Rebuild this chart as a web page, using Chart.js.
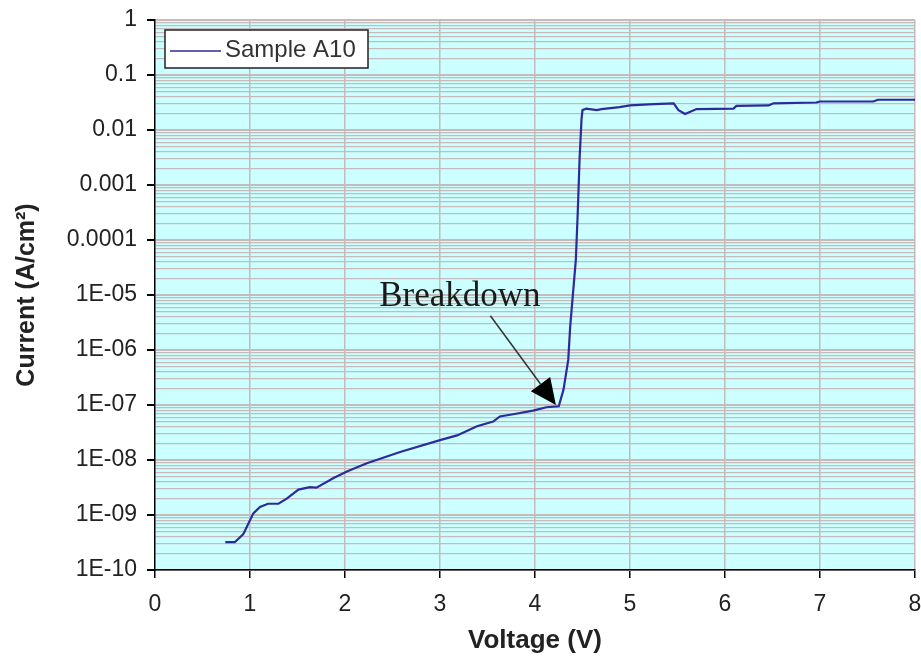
<!DOCTYPE html>
<html>
<head>
<meta charset="utf-8">
<script src="https://cdn.jsdelivr.net/npm/chart.js@4/dist/chart.umd.min.js"></script>
<style>
  html, body { margin: 0; padding: 0; background: #fff; }
  #wrap { width: 921px; height: 662px; }
</style>
</head>
<body>
<div id="wrap"><canvas id="ivChart" width="921" height="662"></canvas></div>
<script>
// ─── I-V curve, sample A10 ───
const voltage = [0.74, 0.84, 0.93, 1.035, 1.105, 1.19, 1.30, 1.39, 1.51, 1.63, 1.70, 1.88, 2.02, 2.23, 2.58,
    3.0, 3.18, 3.39, 3.56, 3.63, 3.77, 3.98, 4.12, 4.25, 4.30, 4.35, 4.37, 4.40, 4.43, 4.45, 4.47, 4.49,
    4.50, 4.54, 4.65, 4.70, 4.89, 5.0, 5.25, 5.46, 5.51, 5.58, 5.70, 6.09, 6.12, 6.46, 6.51, 6.96, 7.0,
    7.56, 7.61, 8.0];
const current = [3.2e-10, 3.2e-10, 4.5e-10, 1.07e-9, 1.4e-9, 1.6e-9, 1.6e-9, 2.0e-9, 2.9e-9, 3.2e-9, 3.15e-9,
    4.7e-9, 6.2e-9, 8.7e-9, 1.4e-8, 2.3e-8, 2.8e-8, 4.1e-8, 5.0e-8, 6.2e-8, 6.8e-8, 7.9e-8, 9.1e-8, 9.5e-8,
    1.9e-7, 6.6e-7, 2.6e-6, 1.07e-5, 4.4e-5, 3.2e-4, 3.2e-3, 1.6e-2, 2.3e-2, 2.45e-2, 2.3e-2, 2.4e-2,
    2.6e-2, 2.8e-2, 2.95e-2, 3.05e-2, 2.3e-2, 1.95e-2, 2.4e-2, 2.45e-2, 2.75e-2, 2.8e-2, 3.05e-2, 3.16e-2,
    3.3e-2, 3.3e-2, 3.55e-2, 3.55e-2];

// decade ticks (top -> bottom) and their printed labels
const yDecades    = [1, 0.1, 0.01, 0.001, 0.0001, 1e-5, 1e-6, 1e-7, 1e-8, 1e-9, 1e-10];
const yTickLabels = ['1', '0.1', '0.01', '0.001', '0.0001', '1E-05', '1E-06', '1E-07', '1E-08', '1E-09', '1E-10'];
const xTickLabels = ['0', '1', '2', '3', '4', '5', '6', '7', '8'];

const seriesLabel = 'Sample A10';
const noteText    = 'Breakdown';
const noteAt      = { x: 3.21, y: 9.1e-6 };      // text centre
const arrowFrom   = { x: 3.53, y: 4.2e-6 };
const arrowTo     = { x: 4.22, y: 1.0e-7 };

const lineColor = '#2b2b9c';
const gridColor = '#c6baba';
const sansFont  = '"Liberation Sans", Arial, sans-serif';

// all 1..9 x 10^n values between 1e-10 and 1
function logTicks() {
    const out = [];
    for (let e = -10; e <= 0; e++) {
        for (let m = 1; m <= 9; m++) {
            const v = m * Math.pow(10, e);
            if (v <= 1.0000001) out.push({ value: v, major: m === 1 });
        }
    }
    return out;
}

function isDecade(v) {
    const l = Math.log10(v);
    return Math.abs(l - Math.round(l)) < 1e-6;
}

const plotBg = {
    id: 'plotBg',
    beforeDraw(chart) {
        const { ctx, chartArea: a } = chart;
        ctx.save();
        ctx.fillStyle = '#ccffff';
        ctx.fillRect(a.left, a.top, a.right - a.left, a.bottom - a.top);
        ctx.restore();
    }
};

const extras = {
    id: 'extras',
    afterDraw(chart) {
        const { ctx, chartArea: a } = chart;
        const xs = chart.scales.x, ys = chart.scales.y;

        // legend box inside plot
        ctx.save();
        ctx.fillStyle = '#ffffff';
        ctx.strokeStyle = '#222';
        ctx.lineWidth = 1.5;
        ctx.fillRect(a.left + 10, a.top + 10, 203, 38);
        ctx.strokeRect(a.left + 10, a.top + 10, 203, 38);
        ctx.strokeStyle = lineColor;
        ctx.lineWidth = 1.5;
        ctx.beginPath();
        ctx.moveTo(a.left + 15, a.top + 31);
        ctx.lineTo(a.left + 66, a.top + 31);
        ctx.stroke();
        ctx.fillStyle = '#333';
        ctx.font = '24px ' + sansFont;
        ctx.textBaseline = 'middle';
        ctx.fillText(seriesLabel, a.left + 70, a.top + 30);

        // annotation
        ctx.fillStyle = '#1a1a1a';
        ctx.font = '35px "Liberation Serif", "Times New Roman", serif';
        ctx.textAlign = 'center';
        ctx.fillText(noteText, xs.getPixelForValue(noteAt.x), ys.getPixelForValue(noteAt.y));

        const x1 = xs.getPixelForValue(arrowFrom.x), y1 = ys.getPixelForValue(arrowFrom.y);
        const x2 = xs.getPixelForValue(arrowTo.x),   y2 = ys.getPixelForValue(arrowTo.y);
        const ang = Math.atan2(y2 - y1, x2 - x1);
        const head = 26, half = 12;
        const bx = x2 - head * Math.cos(ang), by = y2 - head * Math.sin(ang);
        ctx.strokeStyle = '#333';
        ctx.lineWidth = 1.5;
        ctx.beginPath();
        ctx.moveTo(x1, y1);
        ctx.lineTo(bx, by);
        ctx.stroke();
        ctx.fillStyle = '#000';
        ctx.beginPath();
        ctx.moveTo(x2, y2);
        ctx.lineTo(bx + half * Math.sin(ang), by - half * Math.cos(ang));
        ctx.lineTo(bx - half * Math.sin(ang), by + half * Math.cos(ang));
        ctx.closePath();
        ctx.fill();
        ctx.restore();
    }
};

const points = voltage.map((v, i) => ({ x: v, y: current[i] }));

new Chart(document.getElementById('ivChart').getContext('2d'), {
    type: 'scatter',
    data: {
        datasets: [{
            label: seriesLabel,
            data: points,
            showLine: true,
            borderColor: lineColor,
            borderWidth: 2.2,
            pointRadius: 0,
            tension: 0
        }]
    },
    options: {
        responsive: false,
        animation: false,
        layout: { padding: { top: 20, right: 6, left: 0, bottom: 0 } },
        plugins: {
            legend: { display: false },
            tooltip: { enabled: false }
        },
        scales: {
            x: {
                type: 'linear',
                min: 0, max: 8,
                afterFit(s) { s.height = 92; s.paddingLeft = 0; s.paddingRight = 0; },
                ticks: {
                    stepSize: 1,
                    padding: 13,
                    color: '#222',
                    font: { family: sansFont, size: 23 },
                    callback: (v) => xTickLabels[v]
                },
                grid: {
                    color: (c) => c.index === 0 ? 'rgba(0,0,0,0)' : gridColor,
                    lineWidth: 1.5,
                    tickColor: '#000',
                    tickLength: 8
                },
                border: { display: true, color: '#000', width: 1.5 },
                title: {
                    display: true,
                    text: 'Voltage (V)',
                    color: '#222',
                    font: { family: sansFont, size: 26, weight: 'bold' },
                    padding: { top: 0, bottom: 6 }
                }
            },
            y: {
                type: 'logarithmic',
                min: 1e-10, max: 1,
                afterFit(s) { s.width = 155; s.paddingTop = 0; s.paddingBottom = 0; },
                afterBuildTicks(s) { s.ticks = logTicks(); },
                ticks: {
                    autoSkip: false,
                    padding: 10,
                    color: '#222',
                    font: { family: sansFont, size: 23 },
                    callback: (v) => isDecade(v) ? yTickLabels[yDecades.findIndex(d => Math.abs(Math.log10(d) - Math.log10(v)) < 1e-6)] : ''
                },
                grid: {
                    color: gridColor,
                    lineWidth: (c) => c.tick && c.tick.major ? 2 : 1.3,
                    tickColor: (c) => c.tick && c.tick.major ? '#000' : 'rgba(0,0,0,0)',
                    tickLength: 8
                },
                border: { display: true, color: '#000', width: 1.5 },
                title: {
                    display: true,
                    text: 'Current (A/cm²)',
                    color: '#222',
                    font: { family: sansFont, size: 25, weight: 'bold' },
                    padding: { top: 12, bottom: 0 }
                }
            }
        }
    },
    plugins: [plotBg, extras]
});
</script>
</body>
</html>
